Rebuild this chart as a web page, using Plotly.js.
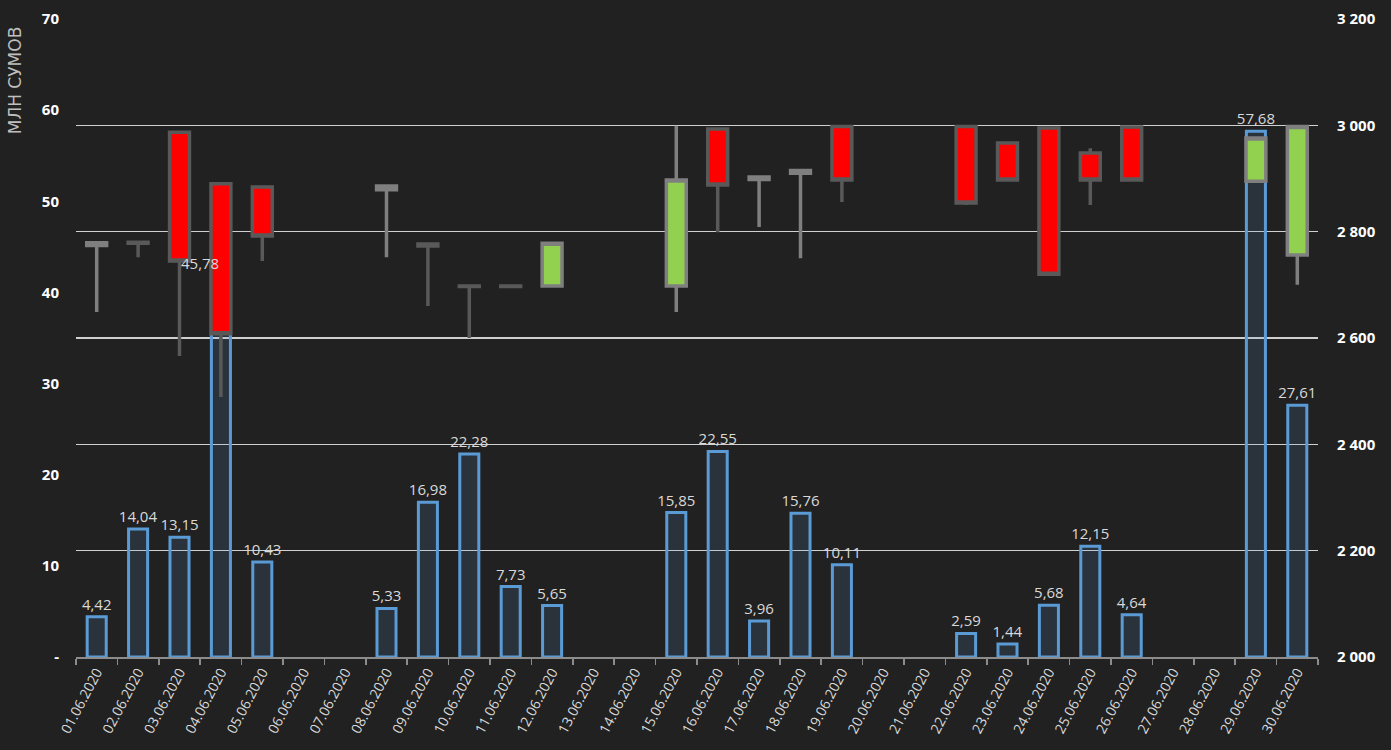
<!DOCTYPE html>
<html>
<head>
<meta charset="utf-8">
<script src="https://cdn.plot.ly/plotly-3.0.1.min.js"></script>
<style>
  html, body { margin: 0; padding: 0; background: #212121; }
  #chart { width: 1391px; height: 750px; }
</style>
</head>
<body>
<div id="chart"></div>
<script>
const dates = ["01.06.2020","02.06.2020","03.06.2020","04.06.2020","05.06.2020","06.06.2020","07.06.2020","08.06.2020","09.06.2020","10.06.2020","11.06.2020","12.06.2020","13.06.2020","14.06.2020","15.06.2020","16.06.2020","17.06.2020","18.06.2020","19.06.2020","20.06.2020","21.06.2020","22.06.2020","23.06.2020","24.06.2020","25.06.2020","26.06.2020","27.06.2020","28.06.2020","29.06.2020","30.06.2020"];

// Trading volume, million sums (left axis)
const volume = [4.42,14.04,13.15,45.78,10.43,null,null,5.33,16.98,22.28,7.73,5.65,null,null,15.85,22.55,3.96,15.76,10.11,null,null,2.59,1.44,5.68,12.15,4.64,null,null,57.68,27.61];

// Price candles (right axis)
const priceOpen  = [2774,2780,2987,2890,2884,null,null,2879,2777,2698,2698,2698,null,null,2698,2993,2898,2910,2998,null,null,2998,2967,2995,2948,2997,null,null,2895,2756];
const priceHigh  = [2779,2780,2987,2890,2884,null,null,2888,2777,2698,2698,2778,null,null,2999,2993,2903,2918,2998,null,null,2998,2967,2995,2957,2997,null,null,2976,2998];
const priceLow   = [2649,2752,2566,2489,2745,null,null,2752,2660,2600,2698,2698,null,null,2649,2799,2809,2750,2856,null,null,2850,2897,2720,2850,2897,null,null,2895,2700];
const priceClose = [2779,2778,2745,2608,2792,null,null,2886,2773,2697,2697,2778,null,null,2897,2888,2903,2915,2897,null,null,2854,2897,2720,2897,2897,null,null,2976,2998];

const leftTicks = [0,10,20,30,40,50,60,70];
const leftTickText = ["-","10","20","30","40","50","60","70"];
const rightTicks = [2000,2200,2400,2600,2800,3000,3200];
const rightTickText = ["2 000","2 200","2 400","2 600","2 800","3 000","3 200"];

const labelIdxSpecial = 3; // label moved manually in the original
const barText = volume.map((v, i) => (v === null || i === labelIdxSpecial) ? "" : v.toFixed(2).replace(".", ","));

const bars = {
  type: "bar",
  x: dates,
  y: volume,
  yaxis: "y",
  width: 0.46,
  marker: { color: "rgba(91,155,213,0.15)", line: { color: "#5b9bd5", width: 3 } },
  text: barText,
  textposition: "outside",
  texttemplate: "%{text}",
  constraintext: "none",
  cliponaxis: false,
  textfont: { family: "Open Sans", size: 15, color: "#d9d9d9" },
  hoverinfo: "skip",
  showlegend: false
};

const candles = {
  type: "candlestick",
  x: dates,
  open: priceOpen,
  high: priceHigh,
  low: priceLow,
  close: priceClose,
  yaxis: "y2",
  whiskerwidth: 0,
  increasing: { fillcolor: "#92d050", line: { color: "#7f7f7f", width: 3.5 } },
  decreasing: { fillcolor: "#ff0000", line: { color: "#595959", width: 3.5 } },
  showlegend: false,
  hoverinfo: "skip"
};

const layout = {
  width: 1391,
  height: 750,
  paper_bgcolor: "#212121",
  plot_bgcolor: "#212121",
  margin: { l: 76, r: 73, t: 19, b: 93 },
  boxgap: 0.52,
  boxgroupgap: 0,
  separators: ", ",
  xaxis: {
    type: "category",
    categoryorder: "array",
    categoryarray: dates,
    tickson: "boundaries",
    ticks: "outside",
    ticklen: 6,
    tickwidth: 1.5,
    tickcolor: "#8c8c8c",
    showline: true,
    linecolor: "#8c8c8c",
    linewidth: 1.5,
    showgrid: false,
    tickangle: -62,
    tickfont: { family: "Open Sans", size: 14, color: "#d9d9d9" },
    rangeslider: { visible: false },
    fixedrange: true
  },
  yaxis: {
    range: [0, 70],
    tickvals: leftTicks,
    ticktext: leftTickText,
    showgrid: false,
    zeroline: false,
    ticks: "",
    ticklabelstandoff: 16,
    tickfont: { family: "Open Sans", size: 15, color: "#ffffff", weight: "bold" }
  },
  yaxis2: {
    overlaying: "y",
    side: "right",
    range: [2000, 3200],
    tickvals: rightTicks,
    ticktext: rightTickText,
    showgrid: true,
    gridcolor: "#d0d0d0",
    gridwidth: 1.5,
    zeroline: false,
    ticks: "",
    ticklabelstandoff: 18,
    tickfont: { family: "Open Sans", size: 15, color: "#ffffff", weight: "bold" }
  },
  annotations: [
    {
      xref: "paper", yref: "paper",
      x: -0.0491, y: 0.904,
      xanchor: "center", yanchor: "middle",
      textangle: -90,
      text: "МЛН СУМОВ",
      showarrow: false,
      font: { family: "DejaVu Sans", size: 17, color: "#bfbfbf" }
    },
    {
      xref: "x", yref: "y",
      x: dates[labelIdxSpecial], y: volume[labelIdxSpecial],
      xshift: -21, yshift: -23,
      xanchor: "center", yanchor: "middle",
      text: volume[labelIdxSpecial].toFixed(2).replace(".", ","),
      showarrow: false,
      font: { family: "Open Sans", size: 15, color: "#d9d9d9" }
    }
  ]
};

Plotly.newPlot("chart", [bars, candles], layout, { displayModeBar: false, staticPlot: true });
</script>
</body>
</html>
